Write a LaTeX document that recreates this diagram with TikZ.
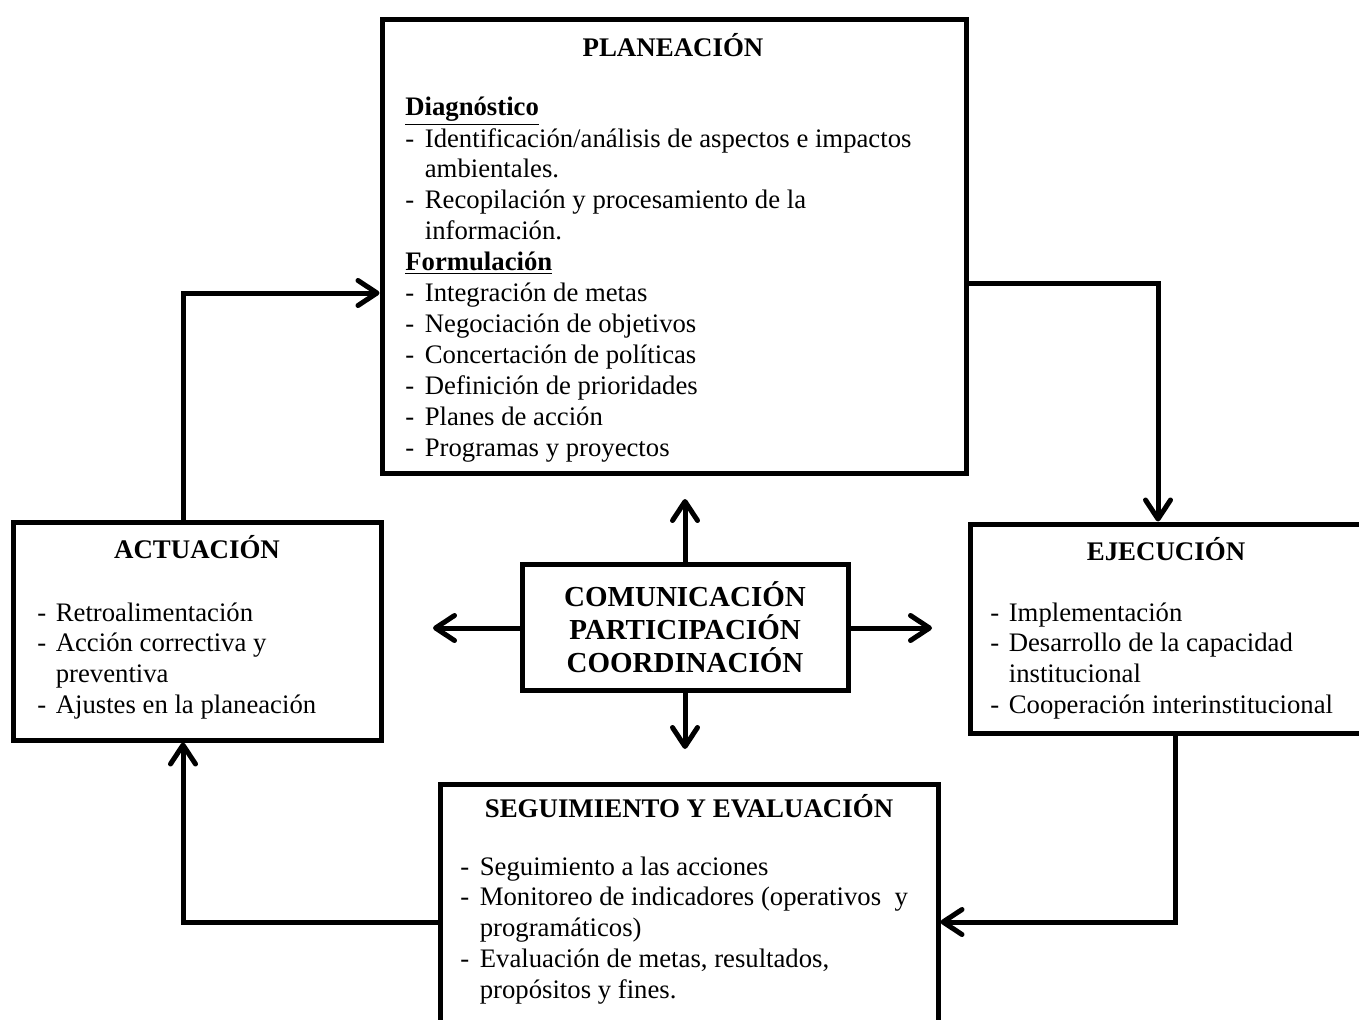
\documentclass[tikz,border=0pt]{standalone}
\usepackage{fontspec}
\setmainfont{Liberation Serif}
\usetikzlibrary{arrows.meta,positioning}

\newcommand{\bodyfont}{\fontsize{15.2}{17.6}\selectfont}

\begin{document}
\begin{tikzpicture}[
		x=0.2mm, y=-0.2mm,
		box/.style={
			rectangle,
			draw,
			line width=1mm,
			inner sep=0pt
		},
		heading/.style={
			anchor=base,
			inner sep=0pt,
			font=\fontsize{15.3}{17.6}\selectfont\bfseries
		},
		items/.style={
			anchor=base west,
			inner sep=0pt,
			font=\bodyfont
		},
		hub/.style={
			box,
			align=center,
			font=\fontsize{16.5}{18.7}\selectfont\bfseries
		},
		arrow/.style={
			-{Straight Barb[length=3.8mm,width=5mm,round]},
			line width=1mm
		}
		]
		
		\useasboundingbox (0,0) rectangle (1359,1019);
		
		\node[box, minimum width=116.8mm, minimum height=90.6mm] (plan) at (674,246.5) {};
		\node[box, minimum width=73.4mm, minimum height=43.6mm] (act) at (197.5,631) {};
		\node[box, minimum width=79mm, minimum height=41.8mm] (eje) at (1167.5,628.5) {};
		\node[box, minimum width=99.6mm, minimum height=48.2mm] (sev) at (689,904.5) {};
		
		\node[hub, minimum width=65.2mm, minimum height=25.2mm] (hub) at (685,627)
		{COMUNICACIÓN\\PARTICIPACIÓN\\COORDINACIÓN};
		
		\node[heading] (plan title) at (673,57) {PLANEACIÓN};
		\node[heading] (act title) at (197,558) {ACTUACIÓN};
		\node[heading] (eje title) at (1166,560) {EJECUCIÓN};
		\node[heading] (sev title) at (689,817) {SEGUIMIENTO Y EVALUACIÓN};
		
		\node[items] (plan list) at (405,116)
		{\begin{tabular}[t]{@{}p{3.9mm}@{}l@{}}
				\multicolumn{2}{@{}l@{}}{\textbf{\underline{Diagnóstico}}}\\
				- & Identificación/análisis de aspectos e impactos\\
				& ambientales.\\
				- & Recopilación y procesamiento de la\\
				& información.\\
				\multicolumn{2}{@{}l@{}}{\textbf{\underline{Formulación}}}\\
				- & Integración de metas\\
				- & Negociación de objetivos\\
				- & Concertación de políticas\\
				- & Definición de prioridades\\
				- & Planes de acción\\
				- & Programas y proyectos
		\end{tabular}};
		
		\node[items] (act list) at (37,621)
		{\begin{tabular}[t]{@{}p{3.7mm}@{}l@{}}
				- & Retroalimentación\\
				- & Acción correctiva y\\
				& preventiva\\
				- & Ajustes en la planeación
		\end{tabular}};
		
		\node[items] (eje list) at (990,621)
		{\begin{tabular}[t]{@{}p{3.7mm}@{}l@{}}
				- & Implementación\\
				- & Desarrollo de la capacidad\\
				& institucional\\
				- & Cooperación interinstitucional
		\end{tabular}};
		
		\node[items] (sev list) at (460,875)
		{\begin{tabular}[t]{@{}p{3.9mm}@{}l@{}}
				- & Seguimiento a las acciones\\
				- & Monitoreo de indicadores (operativos\ \ y\\
				& programáticos)\\
				- & Evaluación de metas, resultados,\\
				& propósitos y fines.
		\end{tabular}};
		
		% corners of the cycle
		\coordinate (c1) at (183,293);
		\coordinate (c2) at (1158,283);
		\coordinate (c3) at (1175,922);
		\coordinate (c4) at (183,922);
		
		\draw[arrow] (act.north -| c1) |- (plan.west |- c1);
		\draw[arrow] (plan.east |- c2) -| (eje.north -| c2);
		\draw[arrow] (eje.south -| c3) |- (sev.east |- c3);
		\draw[arrow] (sev.west |- c4) -| (act.south -| c4);
		
		% arrows out of the hub
		\coordinate (hub up) at (685,499);
		\coordinate (hub down) at (685,749);
		\coordinate (hub left) at (433,628);
		\coordinate (hub right) at (932,628);
		
		\draw[arrow] (hub.north) -- (hub up);
		\draw[arrow] (hub.south) -- (hub down);
		\draw[arrow] (hub.west |- hub left) -- (hub left);
		\draw[arrow] (hub.east |- hub right) -- (hub right);
		
	\end{tikzpicture}
\end{document}
